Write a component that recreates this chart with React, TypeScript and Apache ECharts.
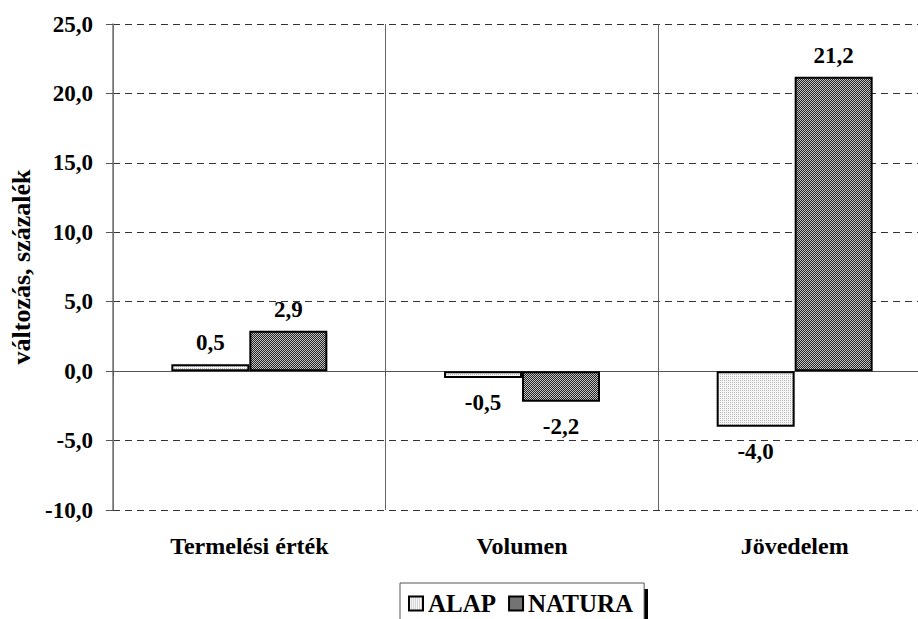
import React, { useEffect, useRef } from "react";
import * as echarts from "echarts";

const categories = ["Termelési érték", "Volumen", "Jövedelem"];
const alapValues = [0.5, -0.5, -4.0];
const naturaValues = [2.9, -2.2, 21.2];
const seriesNames = ["ALAP", "NATURA"];
const yAxisName = "változás, százalék";

const FONT = "Liberation Serif, Times New Roman, serif";

function makePattern(kind: "dots" | "hatch"): HTMLCanvasElement {
  const c = document.createElement("canvas");
  c.width = 4;
  c.height = 4;
  const ctx = c.getContext("2d")!;
  if (kind === "dots") {
    ctx.fillStyle = "#f6f6f6";
    ctx.fillRect(0, 0, 4, 4);
    ctx.fillStyle = "#b8b8b8";
    ctx.fillRect(0, 0, 1, 1);
    ctx.fillRect(2, 2, 1, 1);
    ctx.fillRect(2, 0, 1, 1);
    ctx.fillRect(0, 2, 1, 1);
  } else {
    ctx.fillStyle = "#c4c4c4";
    ctx.fillRect(0, 0, 4, 4);
    ctx.fillStyle = "#222";
    for (let i = 0; i < 4; i++) {
      ctx.fillRect(i, 3 - i, 1, 1);
      ctx.fillRect((i + 2) % 4, 3 - i, 1, 1);
    }
  }
  return c;
}

const fmt = (v: number) => v.toFixed(1).replace(".", ",");

export default function App() {
  const ref = useRef<HTMLDivElement>(null);
  useEffect(() => {
    if (!ref.current) return;
    const chart = echarts.init(ref.current, undefined, { renderer: "svg" });
    const patterns = [makePattern("dots"), makePattern("hatch")];
    const labelFor = (v: number) =>
      v >= 0
        ? { position: "top", distance: 10 }
        : { position: "bottom", distance: 13 };
    const textBase = {
      fontFamily: FONT,
      fontWeight: "bold",
      color: "#000",
    };
    const mkSeries = (name: string, vals: number[], idx: number) => ({
      name,
      type: "bar",
      xAxisIndex: 0,
      barWidth: 78,
      barGap: "0%",
      itemStyle: {
        color: { image: patterns[idx], repeat: "repeat" },
        borderColor: "#000",
        borderWidth: 2,
      },
      data: vals.map((v) => ({ value: v, label: labelFor(v) })),
      label: {
        show: true,
        formatter: (p: any) => fmt(p.value),
        ...textBase,
        fontSize: 23,
      },
    });
    chart.setOption({
      animation: false,
      backgroundColor: "#fff",
      textStyle: { fontFamily: FONT },
      grid: { left: 113, top: 24, bottom: 109, width: 818, outerBoundsMode: "none" },
      legend: {
        left: 400,
        top: 583,
        data: seriesNames,
        icon: "rect",
        itemWidth: 14,
        itemHeight: 14,
        itemGap: 12,
        padding: [8, 11, 8, 8],
        borderColor: "#555",
        borderWidth: 1,
        backgroundColor: "#fff",
        textStyle: { ...textBase, fontSize: 25 },
      },
      graphic: [
        {
          type: "rect",
          left: 644,
          top: 589,
          z: -1,
          shape: { width: 4, height: 40 },
          style: { fill: "#000" },
        },
      ],
      xAxis: [
        {
          type: "category",
          data: categories,
          position: "bottom",
          axisLine: { show: false, onZero: false },
          axisTick: { show: false },
          splitLine: { show: true, lineStyle: { color: "#666", width: 1 } },
          axisLabel: { ...textBase, margin: 24, fontSize: 24 },
        },
        {
          type: "category",
          data: categories,
          position: "top",
          axisLine: { show: true, onZero: true, lineStyle: { color: "#555", width: 1 } },
          axisTick: { show: true, inside: true, length: 5, lineStyle: { color: "#555" } },
          axisLabel: { show: false },
          splitLine: { show: false },
        },
      ],
      yAxis: {
        type: "value",
        min: -10,
        max: 25,
        interval: 5,
        name: yAxisName,
        nameLocation: "middle",
        nameRotate: 90,
        nameGap: 76,
        nameTextStyle: { ...textBase, fontSize: 26 },
        axisLine: { show: true, lineStyle: { color: "#777", width: 1.5 } },
        axisTick: { show: true, length: 7, lineStyle: { color: "#555" } },
        axisLabel: {
          ...textBase,
          margin: 20,
          formatter: (v: number) => fmt(v),
          fontSize: 23,
        },
        splitLine: {
          show: true,
          lineStyle: { color: "#333", type: [7, 5], width: 1 },
        },
      },
      series: [
        mkSeries(seriesNames[0], alapValues, 0),
        mkSeries(seriesNames[1], naturaValues, 1),
      ],
    });
    return () => chart.dispose();
  }, []);
  return (
    <div
      ref={ref}
      style={{ position: "absolute", left: 0, top: 0, width: 918, height: 619, background: "#fff" }}
    />
  );
}
